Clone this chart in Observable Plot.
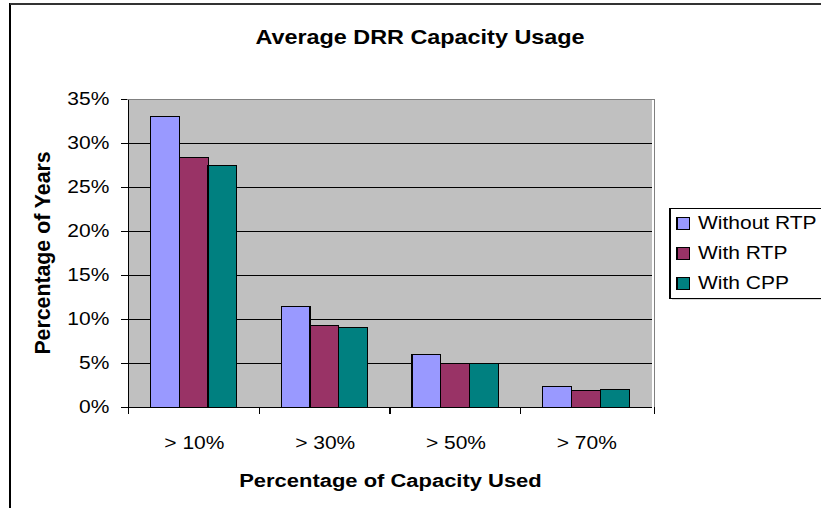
<!DOCTYPE html>
<html><head><meta charset="utf-8">
<script src="https://cdn.jsdelivr.net/npm/d3@7"></script>
<script src="https://cdn.jsdelivr.net/npm/@observablehq/plot@0.6"></script>
<style>
html,body{margin:0;padding:0;background:#fff;}
#chart{width:821px;height:508px;position:relative;overflow:hidden;}
#chart svg{display:block;}
</style></head><body><div id="chart"></div>
<script>
const categories = ["> 10%", "> 30%", "> 50%", "> 70%"];
const seriesNames = ["Without RTP", "With RTP", "With CPP"];
const withoutRTP = [33.0, 11.4, 6.0, 2.3];
const withRTP = [28.4, 9.3, 5.0, 1.9];
const withCPP = [27.5, 9.0, 4.9, 2.0];
const yTicks = [0, 5, 10, 15, 20, 25, 30, 35];
const colors = ["#9999FF", "#993366", "#008080"];
const titleText = "Average DRR Capacity Usage";
const xTitle = "Percentage of Capacity Used";
const yTitle = "Percentage of Years";

const seriesValues = [withoutRTP, withRTP, withCPP];
const data = [];
categories.forEach((c, i) => seriesNames.forEach((s, j) => data.push({category: c, series: s, value: seriesValues[j][i]})));

const SX = 1.2;            // horizontal stretch of the reference image
const W = 821 / SX;
const H = 508;
const FONT = "'Liberation Sans', Arial, sans-serif";

const chart = Plot.plot({
  width: W, height: H,
  marginLeft: 126.7 / SX, marginRight: W - 654.3 / SX, marginTop: 99, marginBottom: H - 407,
  style: {fontFamily: FONT, fontSize: "17.5px", color: "#000", background: "#fff", overflow: "visible"},
  fx: {domain: categories, padding: 0, axis: "bottom", tickSize: 0, tickPadding: 29, label: null},
  x: {domain: seriesNames, paddingInner: 0, paddingOuter: 0.75, axis: null},
  y: {domain: [0, 35], ticks: yTicks, tickFormat: d => d + "%", tickSize: 6.4, tickPadding: 10, label: null, line: true},
  color: {domain: seriesNames, range: colors},
  marks: [
    Plot.frame({fill: "#C0C0C0", stroke: null}),
    Plot.ruleY(yTicks.slice(1, -1), {stroke: "#000", strokeWidth: 1}),
    Plot.barY(data, {fx: "category", x: "series", y: "value", fill: "series", stroke: "#000", strokeWidth: 1}),
    Plot.ruleY([0], {stroke: "#000", strokeWidth: 1})
  ]
});

chart.setAttribute("width", 821);
chart.setAttribute("height", H);
chart.setAttribute("preserveAspectRatio", "none");
chart.style.width = "821px";
chart.style.height = H + "px";
chart.style.maxWidth = "none";
chart.style.shapeRendering = "crispEdges";

const svg = d3.select(chart);
const fx = chart.scale("fx");
const y = chart.scale("y");
const color = chart.scale("color");
const xL = fx.range[0], xR = fx.range[1];
const yTop = y.apply(35), yBot = y.apply(0);

const g = svg.append("g").attr("text-anchor", "start");
// plot-area border (top, right) in grey
g.append("line").attr("x1", xL).attr("x2", xR).attr("y1", yTop + 0.5).attr("y2", yTop + 0.5).attr("stroke", "#808080");
g.append("line").attr("x1", xR).attr("x2", xR).attr("y1", yTop).attr("y2", yBot).attr("stroke", "#808080");
// category boundary ticks
const bounds = categories.map(c => fx.apply(c)).concat([xR]);
g.selectAll(".bt").data(bounds).join("line")
  .attr("x1", d => d).attr("x2", d => d).attr("y1", yBot).attr("y2", yBot + 7).attr("stroke", "#000");

// outer chart frame (left and top edges visible)
g.append("line").attr("x1", 10 / SX).attr("x2", 10 / SX).attr("y1", 3).attr("y2", H).attr("stroke", "#000").attr("stroke-width", 1.5);
g.append("line").attr("x1", 10 / SX).attr("x2", W).attr("y1", 4).attr("y2", 4).attr("stroke", "#333").attr("stroke-width", 2);

// title
g.append("text").text(titleText)
  .attr("x", 420 / SX).attr("y", 38).attr("text-anchor", "middle").attr("dominant-baseline", "central")
  .attr("font-family", FONT).attr("font-weight", "bold").attr("font-size", 19.5).attr("fill", "#000");
// x title
g.append("text").text(xTitle)
  .attr("x", (xL + xR) / 2).attr("y", 481).attr("text-anchor", "middle").attr("dominant-baseline", "central")
  .attr("font-family", FONT).attr("font-weight", "bold").attr("font-size", 18.3).attr("fill", "#000");
// y title (not stretched horizontally)
g.append("text").text(yTitle)
  .attr("transform", `translate(${43 / SX},${(yTop + yBot) / 2}) scale(${1 / SX},1) rotate(-90)`)
  .attr("text-anchor", "middle").attr("dominant-baseline", "central")
  .attr("font-family", FONT).attr("font-weight", "bold").attr("font-size", 21.3).attr("fill", "#000");

// legend
const lg = svg.append("g").attr("text-anchor", "start");
const lx = 670 / SX, lTop = 208, lBot = 298;
lg.append("rect").attr("x", lx + 1.5).attr("y", lTop + 2).attr("width", W - lx + 10).attr("height", lBot - lTop)
  .attr("fill", "#d8d8d8").attr("stroke", "none");
lg.append("rect").attr("x", lx).attr("y", lTop).attr("width", W - lx + 10).attr("height", lBot - lTop)
  .attr("fill", "#fff").attr("stroke", "#000");
const rowY = [223, 253, 283];
seriesNames.forEach((s, i) => {
  lg.append("rect").attr("x", 677 / SX).attr("y", rowY[i] - 5.5).attr("width", 10.2).attr("height", 11.5)
    .attr("fill", color.apply(s)).attr("stroke", "#000");
  lg.append("text").text(s).attr("x", 698 / SX).attr("y", rowY[i]).attr("dominant-baseline", "central")
    .attr("text-anchor", "start")
    .attr("font-family", FONT).attr("font-size", 17.5).attr("fill", "#000");
});

document.getElementById("chart").appendChild(chart);
</script>
</body></html>
